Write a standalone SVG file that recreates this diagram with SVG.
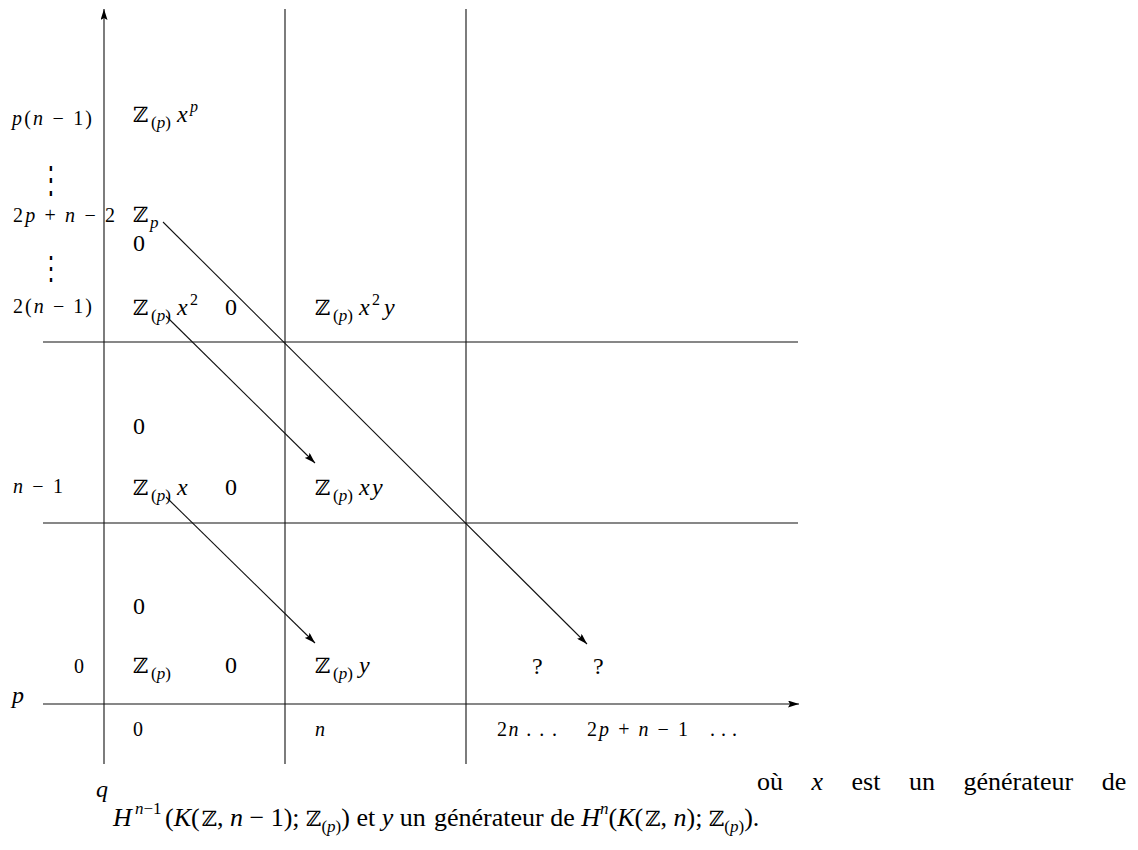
<svg xmlns="http://www.w3.org/2000/svg" width="1138" height="850" viewBox="0 0 1138 850" font-family="'Liberation Serif','Times New Roman','DejaVu Serif',serif">
<style>
.t{font-family:'Liberation Serif','Times New Roman','DejaVu Serif',serif;fill:#000}
.m{font-size:24px}
.l{font-size:20px}
.s{font-size:17px}
.ss{font-size:16px}
.i{font-style:italic}
.z{font-family:'DejaVu Serif','DejaVu Sans',serif;font-size:21px}
.b{font-size:26px}
.vd{font-family:'DejaVu Serif',serif;font-size:22px}
.ln{stroke:#111;stroke-width:1.1;fill:none}
.ar{stroke:#111;stroke-width:1.1;fill:none;marker-end:url(#ah)}
</style>
<defs>
<marker id="ah" viewBox="0 0 11 7" refX="11" refY="3.5" markerWidth="11" markerHeight="7" markerUnits="userSpaceOnUse" orient="auto">
<path d="M0,0 L11,3.5 L0,7 L2,3.5 z" fill="#000"/>
</marker>
</defs>
<rect width="1138" height="850" fill="#fff"/>

<g id="grid">
<line class="ar" x1="104" y1="764" x2="104" y2="9"/>
<line class="ln" x1="285" y1="9" x2="285" y2="764"/>
<line class="ln" x1="466" y1="9" x2="466" y2="764"/>
<line class="ln" x1="43" y1="342" x2="798" y2="342"/>
<line class="ln" x1="43" y1="523" x2="798" y2="523"/>
<line class="ar" x1="43" y1="704" x2="799" y2="704"/>
</g>

<g id="connectors">
<line class="ar" x1="163" y1="222" x2="587" y2="644"/>
<line class="ar" x1="166" y1="316" x2="315" y2="463"/>
<line class="ar" x1="166" y1="497" x2="315" y2="643"/>
</g>

<g id="row-labels" class="t l">
<text x="12" y="125" textLength="80" lengthAdjust="spacing"><tspan class="i">p</tspan>(<tspan class="i">n</tspan> − 1)</text>
<text class="vd" transform="translate(40,192) scale(1,1.7)">⋮</text>
<text x="13" y="222" textLength="102" lengthAdjust="spacing">2<tspan class="i">p</tspan> + <tspan class="i">n</tspan> − 2</text>
<text class="vd" transform="translate(40,280) scale(1,1.5)">⋮</text>
<text x="13" y="313" textLength="79" lengthAdjust="spacing">2(<tspan class="i">n</tspan> − 1)</text>
<text x="13" y="493" textLength="50" lengthAdjust="spacing"><tspan class="i">n</tspan> − 1</text>
<text x="74" y="673">0</text>
</g>

<g id="col-labels" class="t l">
<text x="133" y="736">0</text>
<text x="315" y="736" class="i">n</text>
<text x="497" y="736" textLength="60" lengthAdjust="spacing">2<tspan class="i">n</tspan> . . .</text>
<text x="587" y="736" textLength="101" lengthAdjust="spacing">2<tspan class="i">p</tspan> + <tspan class="i">n</tspan> − 1</text>
<text x="710" y="736" textLength="27" lengthAdjust="spacing">. . .</text>
</g>

<g id="axis-labels" class="t m i">
<text x="12" y="703">p</text>
<text x="96" y="797">q</text>
</g>

<g id="n-zxp" class="t m"><text><tspan class="z" x="133" y="122">ℤ</tspan><tspan class="s" x="151" y="128">(<tspan class="i">p</tspan>)</tspan><tspan class="i" x="177" y="122">x</tspan><tspan class="ss i" x="190" y="112">p</tspan></text></g>
<g id="n-zp" class="t m"><text><tspan class="z" x="133" y="222">ℤ</tspan><tspan class="s i" x="150" y="228">p</tspan></text></g>
<g id="n-0a" class="t m"><text x="133" y="251">0</text></g>
<g id="n-zx2" class="t m"><text><tspan class="z" x="133" y="315">ℤ</tspan><tspan class="s" x="151" y="321">(<tspan class="i">p</tspan>)</tspan><tspan class="i" x="177" y="315">x</tspan><tspan class="ss" x="190" y="305">2</tspan></text></g>
<g id="n-0b" class="t m"><text x="225" y="315">0</text></g>
<g id="n-zx2y" class="t m"><text><tspan class="z" x="315" y="315">ℤ</tspan><tspan class="s" x="333" y="321">(<tspan class="i">p</tspan>)</tspan><tspan class="i" x="359" y="315">x</tspan><tspan class="ss" x="372" y="305">2</tspan><tspan class="i" x="384" y="315">y</tspan></text></g>
<g id="n-0c" class="t m"><text x="133" y="434">0</text></g>
<g id="n-zx" class="t m"><text><tspan class="z" x="133" y="495">ℤ</tspan><tspan class="s" x="151" y="501">(<tspan class="i">p</tspan>)</tspan><tspan class="i" x="177" y="495">x</tspan></text></g>
<g id="n-0d" class="t m"><text x="225" y="495">0</text></g>
<g id="n-zxy" class="t m"><text><tspan class="z" x="315" y="495">ℤ</tspan><tspan class="s" x="333" y="501">(<tspan class="i">p</tspan>)</tspan><tspan class="i" x="359" y="495">x</tspan><tspan class="i" x="372" y="495">y</tspan></text></g>
<g id="n-0e" class="t m"><text x="133" y="614">0</text></g>
<g id="n-z" class="t m"><text><tspan class="z" x="133" y="673">ℤ</tspan><tspan class="s" x="151" y="679">(<tspan class="i">p</tspan>)</tspan></text></g>
<g id="n-0f" class="t m"><text x="225" y="673">0</text></g>
<g id="n-zy" class="t m"><text><tspan class="z" x="315" y="673">ℤ</tspan><tspan class="s" x="333" y="679">(<tspan class="i">p</tspan>)</tspan><tspan class="i" x="359" y="673">y</tspan></text></g>
<g id="n-q1" class="t m"><text x="532" y="674">?</text></g>
<g id="n-q2" class="t m"><text x="593" y="674">?</text></g>

<g id="caption" class="t b">
<text x="757" y="790" style="word-spacing:22px">où <tspan class="i">x</tspan> est un générateur de</text>
<text y="826"><tspan class="i" x="113">H</tspan><tspan class="s i" x="135" y="814">n</tspan><tspan class="s">−1</tspan><tspan x="165" y="826">(</tspan><tspan class="i">K</tspan>(<tspan class="z" dx="2">ℤ</tspan>, <tspan class="i">n</tspan> − 1); <tspan class="z">ℤ</tspan><tspan class="s" dy="6">(<tspan class="i">p</tspan>)</tspan><tspan dy="-6">) et </tspan><tspan class="i">y</tspan> un</text>
<text y="826"><tspan x="434">générateur de </tspan><tspan class="i">H</tspan><tspan class="s i" dy="-12">n</tspan><tspan dy="12">(</tspan><tspan class="i">K</tspan>(<tspan class="z" dx="2">ℤ</tspan>, <tspan class="i">n</tspan>); <tspan class="z">ℤ</tspan><tspan class="s" dy="6">(<tspan class="i">p</tspan>)</tspan><tspan dy="-6">).</tspan></text>
</g>
</svg>
